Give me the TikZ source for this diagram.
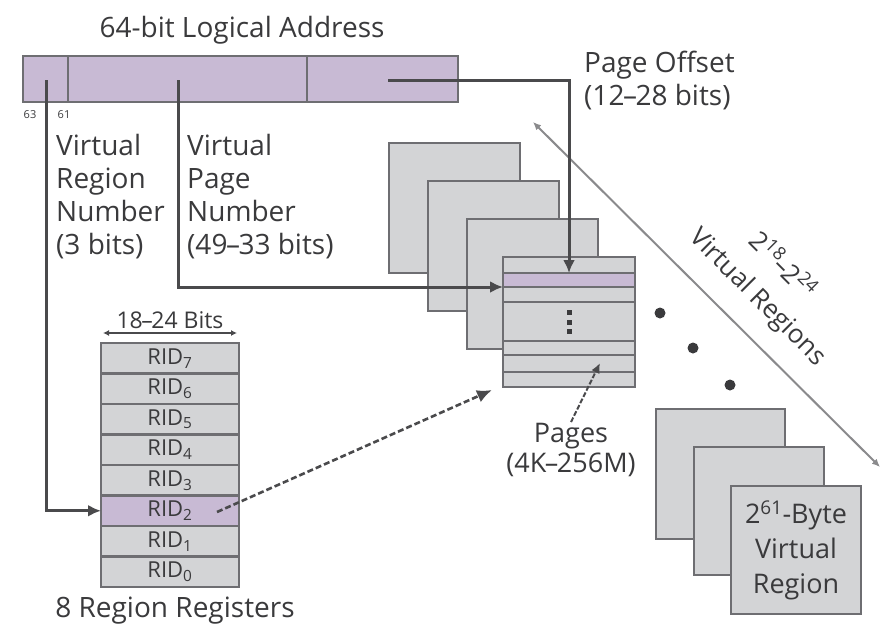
\documentclass[tikz,border=0pt]{standalone}
\usepackage{fontspec}
\setmainfont{Open Sans}
\usetikzlibrary{arrows.meta,calc}
\definecolor{lav}{HTML}{C8BAD4}
\definecolor{gfill}{HTML}{D3D4D6}
\definecolor{bord}{HTML}{6E6E72}
\definecolor{ink}{HTML}{3A3A3C}
\definecolor{lineg}{HTML}{8A8A8C}
\definecolor{conc}{HTML}{4A4A4C}
\newcommand{\nd}{\kern-1.5pt–\kern-1.5pt}
\begin{document}
\begin{tikzpicture}[x=1pt,y=-1pt,
  every node/.style={text=ink, font=\fontsize{28}{33}\selectfont},
  box/.style={draw=bord, line width=2.8pt, fill=gfill, inner sep=0pt, outer sep=0pt, anchor=north west},
  field/.style={box, fill=lav, minimum height=46pt},
  pagebox/.style={box, minimum width=131pt, minimum height=130pt},
  regbox/.style={box, minimum width=138pt, minimum height=30.5pt, font=\fontsize{22}{24}\selectfont},
  conn/.style={draw=conc, line width=3pt, -{Latex[length=13pt,width=12pt]}},
  dconn/.style={draw=conc, line width=2.6pt, dash pattern=on 6pt off 3pt, -{Latex[length=15pt,width=13pt]}},
  thinarrow/.style={draw=conc, line width=2pt, dash pattern=on 5pt off 2pt, -{Latex[length=10pt,width=9pt]}},
  diag/.style={draw=lineg, line width=2pt, {Latex[length=8pt,width=7pt]}-{Latex[length=8pt,width=7pt]}},
  dim/.style={draw=conc, line width=1.5pt, {Latex[length=6pt,width=6pt]}-{Latex[length=6pt,width=6pt]}},
  lbl/.style={align=left, inner sep=0pt},
  vr/.style={rotate=-45, inner sep=0pt, font=\fontsize{26}{30}\selectfont},
  bigdot/.style={circle, fill=ink, inner sep=0pt, minimum size=11pt}
]
\useasboundingbox (0,0) rectangle (882,627);

% ---- logical address
\node (title) at (242,30) {64-bit Logical Address};
\node[field, minimum width=45pt] (f1) at (23,56) {};
\node[field, minimum width=239pt] (f2) at (68,56) {};
\node[field, minimum width=151pt] (f3) at (307,56) {};
\node[font=\fontsize{11}{12}\selectfont, inner sep=0pt] (b63) at (30,115) {63};
\node[font=\fontsize{11}{12}\selectfont, inner sep=0pt] (b61) at (64,115) {61};
\node[lbl, anchor=west] (vrn) at (56,197) {Virtual\\Region\\Number\\(3 bits)};
\node[lbl, anchor=west] (vpn) at (187,197) {Virtual\\Page\\Number\\(49\nd33 bits)};
\node[lbl, anchor=west] (poff) at (584,80) {Page Offset\\(12\nd28 bits)};

% ---- page stack
\node[pagebox] (p1) at (389,143) {};
\node[pagebox] (p2) at (428,181) {};
\node[pagebox] (p3) at (467,219) {};
\node[pagebox, minimum width=132pt] (pf) at (503,257) {};
\node[box, fill=lav, minimum width=132pt, minimum height=14pt] (pband) at (503,273) {};
\foreach \yy in {302,341,355,372} \draw[bord, line width=2.8pt] (503,\yy) -- (635,\yy);
\foreach \yy in {312,322,331} \fill[ink] (566.5,\yy-2.5) rectangle (571.5,\yy+2.5);
\node[align=center, inner sep=1pt, font=\fontsize{27}{30}\selectfont] (plabel) at (571,450) {Pages\\(4K\nd256M)};

% ---- region registers
\node[font=\fontsize{23}{26}\selectfont] (bits) at (170,320) {18\nd24 Bits};
\coordinate (dl) at (103,333);
\coordinate (dr) at (237,333);
\draw[dim] (dl) -- (dr);
\foreach \i/\yy in {7/343,6/373.5,5/404,4/434.5,3/465,2/495.5,1/526,0/556.5}
  \node[regbox] (r\i) at (101,\yy) {RID\textsubscript{\i}};
\node[regbox, fill=lav] (r2) at (101,495.5) {RID\textsubscript{2}};
\node[font=\fontsize{28}{30}\selectfont] (rr) at (175,611) {8 Region Registers};

% ---- virtual region stack
\node[pagebox, minimum width=129pt] (v1) at (656,409) {};
\node[pagebox, minimum width=130pt, minimum height=128pt] (v2) at (694,447) {};
\node[pagebox, minimum width=130pt, minimum height=128pt, align=center, font=\fontsize{27}{35}\selectfont] (v3) at (731,486) {2\textsuperscript{61}-Byte\\Virtual\\Region};

% ---- dots
\node[bigdot] (dot1) at (660,313) {};
\node[bigdot] (dot2) at (693,348) {};
\node[bigdot] (dot3) at (730,385) {};

% ---- diagonal
\coordinate (d1) at (533,122);
\coordinate (d2) at (880,467);
\draw[diag] (d1) -- (d2);
\node[vr] (vrexp) at (784,264) {2\textsuperscript{18}\nd2\textsuperscript{24}};
\node[vr] (vrtxt) at (757,298) {Virtual Regions};

% ---- connectors
\coordinate (s1) at (46,80);
\coordinate (s2) at (178,80);
\coordinate (s3) at (388,80);
\coordinate (s4) at (217,512);
\coordinate (t4) at (492,390);
\coordinate (t5) at (600,363);
\draw[conn] (s1) |- (r2.west);
\draw[conn] (s2) |- (pband.south west);
\draw[conn] (s3) -| (pband.north);
\draw[dconn] (s4) -- (t4);
\draw[thinarrow] (plabel.north) -- (t5);
\end{tikzpicture}
\end{document}
